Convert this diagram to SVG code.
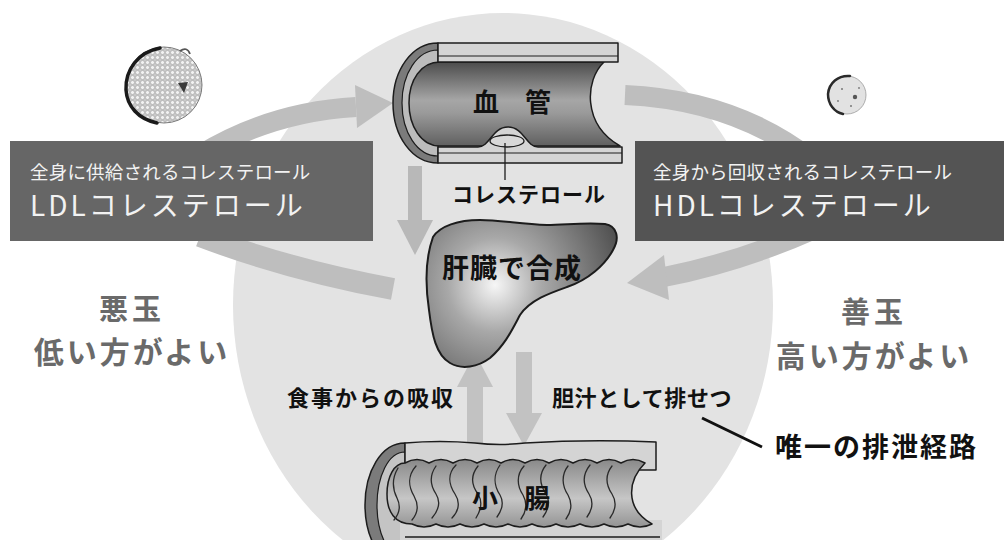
<svg xmlns="http://www.w3.org/2000/svg" width="1004" height="540" viewBox="0 0 1004 540">
  <style>
    .jp { font-family: "Noto Sans CJK JP", "Noto Sans", sans-serif; }
    .lbl { font-weight: 700; fill: #111; }
    .sub { font-size: 18.5px; fill: #f2f2f2; letter-spacing: 0.2px; }
    .main { font-size: 28px; fill: #f2f2f2; letter-spacing: 3px; }
    .verdict { font-weight: 700; fill: #6a6a6a; }
    .flow { fill: none; stroke: #bebebe; stroke-linecap: butt; }
    .head { fill: #bebebe; }
    .ink { stroke: #1c1c1c; stroke-linejoin: round; }
    .wall { fill: #d4d4d4; }
    .fold { fill: none; stroke: #2a2a2a; stroke-width: 1.3; stroke-linecap: round; }
  </style>
  <defs>
    <linearGradient id="lumen" gradientUnits="userSpaceOnUse" x1="0" y1="62" x2="0" y2="147">
      <stop offset="0" stop-color="#4c4c4c"/>
      <stop offset="0.45" stop-color="#a6a6a6"/>
      <stop offset="0.6" stop-color="#9a9a9a"/>
      <stop offset="1" stop-color="#5e5e5e"/>
    </linearGradient>
    <linearGradient id="gut" gradientUnits="userSpaceOnUse" x1="0" y1="460" x2="0" y2="530">
      <stop offset="0" stop-color="#8a8a8a"/>
      <stop offset="0.55" stop-color="#c6c6c6"/>
      <stop offset="1" stop-color="#8e8e8e"/>
    </linearGradient>
    <radialGradient id="liverShade" gradientUnits="userSpaceOnUse" cx="495" cy="285" r="135">
      <stop offset="0" stop-color="#f6f6f6"/>
      <stop offset="0.35" stop-color="#a8a8a8"/>
      <stop offset="1" stop-color="#4c4c4c"/>
    </radialGradient>
    <pattern id="beads" width="5" height="5" patternUnits="userSpaceOnUse">
      <rect width="5" height="5" fill="#c9c9c9"/>
      <circle cx="2.5" cy="2.5" r="2" fill="#f2f2f2" stroke="#9c9c9c" stroke-width="0.5"/>
    </pattern>
  </defs>

  <rect width="1004" height="540" fill="#ffffff"/>
  <!-- circulation backdrop -->
  <ellipse cx="503" cy="305" rx="270" ry="292" fill="#e3e3e3"/>

  <g id="connectors">
    <!-- LDL: box to vessel -->
    <path class="flow" d="M200,155 Q270,112 356,107" stroke-width="20"/>
    <polygon class="head" points="355,85 393,103 357,128"/>
    <!-- liver to LDL box -->
    <path class="flow" d="M200,236 Q290,270 393,289" stroke-width="22"/>
    <!-- vessel to HDL box -->
    <path class="flow" d="M625,95 Q735,100 812,160" stroke-width="20"/>
    <!-- HDL box to liver -->
    <path class="flow" d="M664,277 Q740,262 812,230" stroke-width="20"/>
    <polygon class="head" points="664,255 627,283 669,300"/>
    <!-- vessel to liver -->
    <rect x="408" y="166" width="14" height="55" fill="#b8b8b8"/>
    <polygon points="397,220 433,220 415,255" fill="#b8b8b8"/>
    <!-- intake: gut to liver -->
    <rect x="467" y="386" width="16" height="66" fill="#c2c2c2"/>
    <polygon points="457,387 493,387 475,353" fill="#c2c2c2"/>
    <!-- bile: liver to gut -->
    <rect x="516" y="352" width="16" height="62" fill="#c2c2c2"/>
    <polygon points="506,413 542,413 524,446" fill="#c2c2c2"/>
    <!-- pointer to the excretion label -->
    <line x1="702" y1="418" x2="762" y2="447" stroke="#111" stroke-width="3"/>
  </g>

  <g id="ldl-box">
    <rect x="10" y="141" width="363" height="100" fill="#666666"/>
    <text class="jp sub" x="30" y="179">全身に供給されるコレステロール</text>
    <text class="jp main" x="30" y="216">LDLコレステロール</text>
  </g>

  <g id="hdl-box">
    <rect x="635" y="141" width="369" height="100" fill="#545454"/>
    <text class="jp sub" x="653" y="179">全身から回収されるコレステロール</text>
    <text class="jp main" x="653" y="216">HDLコレステロール</text>
  </g>

  <g id="ldl-particle">
    <circle cx="164" cy="85" r="38" fill="url(#beads)" stroke="#7a7a7a" stroke-width="1"/>
    <path d="M160,48 C138,52 125,70 126,90 C127,106 138,119 157,123" fill="none" stroke="#1a1a1a" stroke-width="3.5" stroke-linecap="round"/>
    <path d="M180,51 q7,-5 10,3" fill="none" stroke="#555" stroke-width="1.8"/>
    <polygon points="178,83 188,82 184,93" fill="#3a3a3a"/>
  </g>

  <g id="hdl-particle">
    <circle cx="847" cy="95" r="19" fill="#e2e2e2" stroke="#9a9a9a" stroke-width="0.8"/>
    <path d="M850,76 C838,75 829,83 828,94 C828,104 834,112 843,114" fill="none" stroke="#2a2a2a" stroke-width="2.5" stroke-linecap="round"/>
    <circle cx="855" cy="97" r="2.2" fill="#555"/>
    <circle cx="842" cy="89" r="1" fill="#777"/>
    <circle cx="851" cy="106" r="1" fill="#777"/>
    <circle cx="838" cy="101" r="0.9" fill="#777"/>
    <circle cx="859" cy="88" r="0.9" fill="#777"/>
  </g>

  <g id="vessel">
    <path class="ink" d="M438,43 C412,43 393,70 393,103 C393,136 412,163 438,163 Z" fill="#7b7b7b" stroke-width="1.5"/>
    <path class="ink" d="M438,50 C417,50 402,74 402,103 C402,132 417,156 438,156 Z" fill="#bcbcbc" stroke-width="1.2"/>
    <path class="ink" d="M440,62 H604 C585,80 582,124 620,146 H440 C421,146 409,126 409,103 C409,80 421,62 440,62 Z" fill="url(#lumen)" stroke-width="1.5"/>
    <rect class="ink wall" x="438" y="43" width="180" height="19" stroke-width="1.5"/>
    <line x1="438" y1="56" x2="618" y2="56" stroke="#1c1c1c" stroke-width="1.2"/>
    <path class="ink wall" d="M438,147 H478 C490,147 492,127 508,127 C524,127 526,147 538,147 H622 V163 H438 Z" stroke-width="1.5"/>
    <line x1="438" y1="153" x2="622" y2="153" stroke="#1c1c1c" stroke-width="1.2"/>
    <ellipse class="ink" cx="507" cy="141" rx="17" ry="6" fill="#d8d8d8" stroke-width="1.3"/>
    <line x1="505" y1="143" x2="505" y2="180" stroke="#1c1c1c" stroke-width="1.3"/>
    <text class="jp lbl" x="473" y="112" font-size="26">血　管</text>
    <text class="jp lbl" x="452" y="202" font-size="21" letter-spacing="1">コレステロール</text>
  </g>

  <g id="liver">
    <path class="ink" d="M433,237 C440,226 458,220 480,220 C500,220 520,224 547,225 C565,225 585,222 605,224 C617,226 620,238 613,250 C605,265 588,280 567,287 C550,293 530,300 520,315 C512,330 505,345 490,358 C478,367 462,370 450,363 C436,355 432,335 429,310 C426,290 424,262 433,237 Z" fill="url(#liverShade)" stroke-width="2"/>
    <text class="jp lbl" x="442" y="278" font-size="27" letter-spacing="1">肝臓で合成</text>
  </g>

  <g id="intestine">
    <path class="ink" d="M405,443 C381,443 365,472 365,505 C365,538 381,567 405,567 Z" fill="#7b7b7b" stroke-width="1.5"/>
    <path class="ink" d="M405,452 C388,452 377,477 377,505 C377,533 388,558 405,558 Z" fill="#c4c4c4" stroke-width="1.2"/>
    <path class="ink wall" d="M405,443 Q440,440 475,443 Q500,446 525,443 Q590,439 656,442 V470 H405 Z" stroke-width="1.5"/>
    <rect class="wall" x="400" y="520" width="262" height="30"/>
    <line x1="405" y1="537" x2="660" y2="537" stroke="#1c1c1c" stroke-width="1.3"/>
    <path class="ink" d="M405,463 q12,-7 24,0 q12,-7 24,0 q12,-7 24,0 q12,-7 24,0 q12,-7 24,0 q12,-7 24,0 q12,-7 24,0 q12,-7 24,0 q12,-7 24,0 q12,-7 24,0 C628,480 624,508 652,524 q-12,6 -24,0 q-12,6 -24,0 q-12,6 -24,0 q-12,6 -24,0 q-12,6 -24,0 q-12,6 -24,0 q-12,6 -24,0 q-12,6 -24,0 q-12,6 -24,0 q-12,6 -24,0 C395,524 387,512 387,494 C387,477 394,463 405,463 Z" fill="url(#gut)" stroke-width="1.5"/>
    <path class="fold" d="M398,468 c-6,10 -6,20 -1,30 c4,8 2,16 -3,22"/>
    <path class="fold" d="M416,466 c-8,9 -8,20 -2,30 c5,9 4,17 -2,24"/>
    <path class="fold" d="M436,466 c-7,10 -6,19 0,28 c5,8 2,17 -4,24"/>
    <path class="fold" d="M456,465 c-9,9 -7,20 -1,29 c6,9 3,18 -3,24"/>
    <path class="fold" d="M478,466 c-8,10 -6,20 0,28 c5,8 3,16 -2,24"/>
    <path class="fold" d="M500,465 c-7,10 -6,21 0,30 c4,7 2,15 -3,22"/>
    <path class="fold" d="M524,466 c-8,9 -7,20 -1,29 c5,9 3,17 -2,24"/>
    <path class="fold" d="M546,465 c-8,10 -6,20 0,29 c5,8 2,16 -3,23"/>
    <path class="fold" d="M568,466 c-7,9 -6,20 0,29 c5,9 3,17 -2,24"/>
    <path class="fold" d="M590,465 c-8,10 -7,20 -1,29 c5,8 3,16 -2,23"/>
    <path class="fold" d="M612,466 c-7,9 -6,19 0,28 c5,8 3,17 -2,24"/>
    <text class="jp lbl" x="472" y="508" font-size="26">小　腸</text>
  </g>

  <g id="labels">
    <text class="jp lbl" x="455" y="406" font-size="22" letter-spacing="2" text-anchor="end">食事からの吸収</text>
    <text class="jp lbl" x="552" y="406" font-size="22" letter-spacing="0.6">胆汁として排せつ</text>
    <text class="jp lbl" x="775" y="457" font-size="27" letter-spacing="2">唯一の排泄経路</text>
    <text class="jp verdict" x="132" y="320" font-size="29" letter-spacing="4" text-anchor="middle">悪玉</text>
    <text class="jp verdict" x="132" y="363" font-size="30" letter-spacing="3" text-anchor="middle">低い方がよい</text>
    <text class="jp verdict" x="874" y="323" font-size="29" letter-spacing="4" text-anchor="middle">善玉</text>
    <text class="jp verdict" x="874" y="367" font-size="30" letter-spacing="3" text-anchor="middle">高い方がよい</text>
  </g>
</svg>
